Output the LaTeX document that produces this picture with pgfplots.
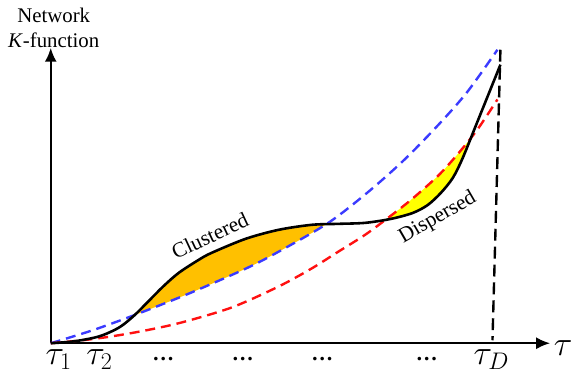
\documentclass[border=0pt]{standalone}
\usepackage{pgfplots}
\pgfplotsset{compat=1.18}
\usepackage{pgfplotstable}
\usepgfplotslibrary{fillbetween}
\usetikzlibrary{arrows.meta}
\usepackage{fontspec}
\setmainfont{Liberation Serif}
\definecolor{myblue}{HTML}{3B3BFF}
\definecolor{myred}{HTML}{FF1010}
\definecolor{myorange}{HTML}{FFC000}
\definecolor{myyellow}{HTML}{FFFF00}

\pgfplotstableread{
x y
0 0
42 13
86 29
139 50
196 75
229 92
279 121
319 152
356 185
391 221
419 253
449 295
}\tabblue

\pgfplotstableread{
x y
0 0
32 3
62 7
96 13
132 21
182 36
229 57
262 75
289 92
316 109
339 126
362 144
389 168
409 190
429 215
449 245
}\tabred

\pgfplotstableread{
x y
0 0
24 2
49 7
69 16
84 28
99 43
114 58
129 71
149 84
162 91
196 105
229 114
262 119
289 120
316 121
342 125
364 131
379 139
392 151
404 166
414 186
429 223
452 280
}\tabblack

\begin{document}
\begin{tikzpicture}
\begin{axis}[
  x=1bp, y=1bp,
  xmin=0, xmax=502, ymin=0, ymax=297,
  axis lines=left,
  axis line style={line width=2.2bp, -{Latex[length=14bp,width=12bp]}},
  xtick=\empty, ytick=\empty,
  clip=false,
]
\addplot[draw=none, name path=bl, smooth] table[x=x,y=y] {\tabblue};
\addplot[draw=none, name path=rd, smooth] table[x=x,y=y] {\tabred};
\addplot[draw=none, name path=bk, smooth] table[x=x,y=y] {\tabblack};
\addplot[myorange] fill between[of=bk and bl, soft clip={domain=84:278}];
\addplot[myyellow] fill between[of=bk and rd, soft clip={domain=334:423}];

\addplot[myblue, line width=2.4bp, dash pattern=on 10bp off 6bp, smooth] table[x=x,y=y] {\tabblue};
\addplot[myred, line width=2.4bp, dash pattern=on 10bp off 6bp, smooth] table[x=x,y=y] {\tabred};
\addplot[black, line width=2.6bp, smooth] table[x=x,y=y] {\tabblack};
\addplot[black, line width=2.4bp, dash pattern=on 12bp off 6bp] coordinates {(452,295) (444,3)};

\node[font=\fontsize{21}{26}\selectfont, align=center] at (axis cs:3,317) {Network\\\textit{K}-function};
\node[font=\fontsize{21.5}{24}\selectfont, rotate=25] at (axis cs:160,108) {Clustered};
\node[font=\fontsize{21.5}{24}\selectfont, rotate=30] at (axis cs:389,126) {Dispersed};

\node[font=\fontsize{24}{26}\selectfont, scale=1.4, anchor=base] at (axis cs:8,-21) {$\tau_1$};
\node[font=\fontsize{24}{26}\selectfont, scale=1.4, anchor=base] at (axis cs:49,-21) {$\tau_2$};
\node[font=\fontsize{22}{24}\selectfont\bfseries] at (axis cs:113,-16) {…};
\node[font=\fontsize{22}{24}\selectfont\bfseries] at (axis cs:193,-16) {…};
\node[font=\fontsize{22}{24}\selectfont\bfseries] at (axis cs:273,-16) {…};
\node[font=\fontsize{22}{24}\selectfont\bfseries] at (axis cs:378,-16) {…};
\node[font=\fontsize{24}{26}\selectfont, scale=1.4, anchor=base] at (axis cs:443,-21) {$\tau_D$};
\node[font=\fontsize{24}{26}\selectfont, scale=1.4, anchor=base] at (axis cs:515,-12) {$\tau$};
\end{axis}
\useasboundingbox (-51bp,-33bp) rectangle (526bp,345bp);
\end{tikzpicture}
\end{document}
